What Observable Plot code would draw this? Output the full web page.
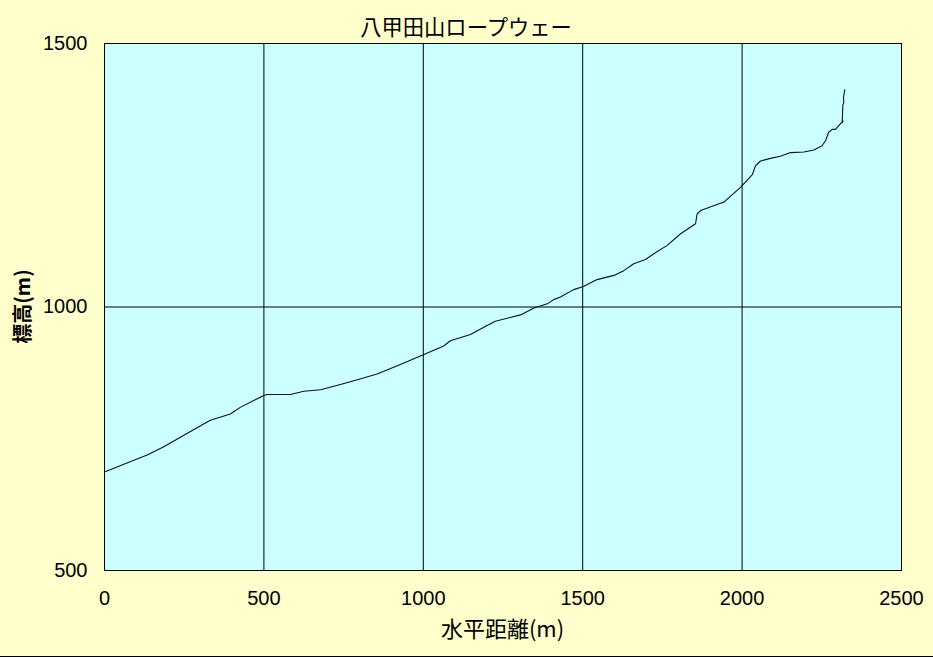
<!DOCTYPE html>
<html>
<head>
<meta charset="utf-8">
<script src="https://cdn.jsdelivr.net/npm/d3@7"></script>
<script src="https://cdn.jsdelivr.net/npm/@observablehq/plot@0.6"></script>
<style>
  html, body { margin: 0; padding: 0; background: #FFFFCC; }
  #chart svg { display: block; border-bottom: 1px solid #000; }
</style>
</head>
<body>
<div id="chart"></div>
<script>
const title = "八甲田山ロープウェー";
const xLabel = "水平距離(m)";
const yLabel = "標高(m)";
const xTicks = [0, 500, 1000, 1500, 2000, 2500];
const yTicks = [500, 1000, 1500];

// horizontal distance (m)
const distance = [0, 92, 134, 186, 238, 311, 332, 395, 427, 479, 500, 510, 583, 625, 678, 740, 793, 855, 928,
  1002, 1064, 1085, 1148, 1200, 1226, 1305, 1347, 1389, 1409, 1430, 1472, 1502, 1545, 1598, 1629, 1660, 1697,
  1723, 1765, 1807, 1854, 1859, 1870, 1932, 1943, 1995, 2032, 2042, 2058, 2089, 2120, 2152, 2194, 2225, 2251,
  2262, 2272, 2283, 2293, 2309, 2317, 2314, 2316, 2319, 2318, 2322];
// elevation (m)
const elevation = [687, 709, 719, 735, 753, 778, 785, 797, 810, 826, 832, 834, 834, 840, 843, 853, 862, 873, 891,
  910, 926, 936, 948, 965, 973, 985, 998, 1006, 1014, 1019, 1033, 1039, 1052, 1060, 1069, 1082, 1090,
  1101, 1117, 1139, 1158, 1177, 1183, 1197, 1199, 1227, 1251, 1268, 1277, 1282, 1286, 1293, 1294, 1298, 1306,
  1316, 1332, 1337, 1337, 1348, 1353, 1350, 1383, 1388, 1398, 1412];

const data = distance.map((d, i) => ({x: d, y: elevation[i]}));

const W = 933, H = 656;
const mL = 104, mR = 32, mT = 43, mB = 86;

const plot = Plot.plot({
  width: W,
  height: H,
  marginLeft: mL,
  marginRight: mR,
  marginTop: mT,
  marginBottom: mB,
  style: {background: "#FFFFCC", fontFamily: "'Liberation Sans', 'Noto Sans CJK JP', sans-serif", fontSize: "20px", color: "#000"},
  x: {domain: [0, 2500], ticks: xTicks, tickSize: 0, tickPadding: 20, label: null, tickFormat: d => String(d)},
  y: {domain: [500, 1500], ticks: yTicks, tickSize: 0, tickPadding: 17, label: null, tickFormat: d => String(d)},
  marks: [
    Plot.frame({fill: "#CCFFFF"}),
    Plot.gridX(xTicks.slice(1, -1), {stroke: "#000", strokeOpacity: 1, strokeWidth: 1}),
    Plot.gridY(yTicks.slice(1, -1), {stroke: "#000", strokeOpacity: 1, strokeWidth: 1}),
    Plot.line(data, {x: "x", y: "y", stroke: "#001038", strokeWidth: 1.1, curve: "linear"}),
    Plot.frame({stroke: "#000", strokeWidth: 1})
  ]
});

const svg = d3.select(plot);
svg.append("text")
  .attr("x", 466).attr("y", 35)
  .attr("text-anchor", "middle")
  .style("font-family", "'Noto Sans CJK JP', sans-serif")
  .style("font-size", "21.3px")
  .attr("fill", "#000")
  .text(title);
svg.append("text")
  .attr("x", (mL + W - mR) / 2).attr("y", 637)
  .attr("text-anchor", "middle")
  .style("font-family", "'Noto Sans CJK JP', sans-serif")
  .style("font-size", "22px")
  .attr("fill", "#000")
  .text(xLabel);
svg.append("text")
  .attr("transform", `translate(30, ${(mT + H - mB) / 2}) rotate(-90)`)
  .attr("text-anchor", "middle")
  .style("font-family", "'Noto Sans CJK JP', sans-serif")
  .style("font-size", "20px")
  .style("font-weight", "bold")
  .attr("fill", "#000")
  .text(yLabel);

document.getElementById("chart").appendChild(plot);
</script>
</body>
</html>
